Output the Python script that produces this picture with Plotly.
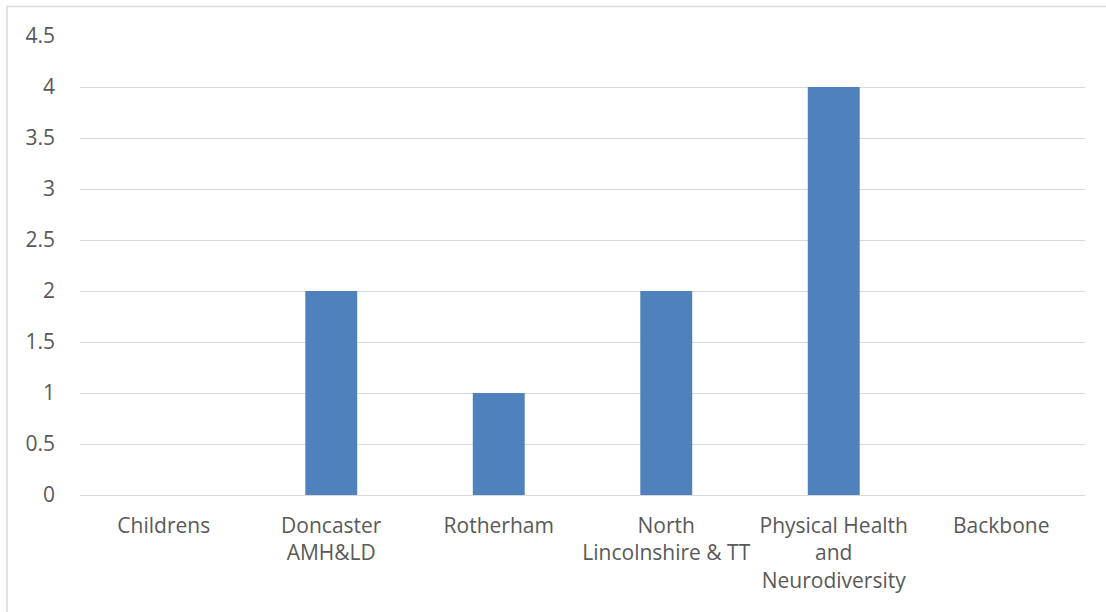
import plotly.graph_objects as go

categories = [
    "Childrens",
    "Doncaster<br>AMH&LD",
    "Rotherham",
    "North<br>Lincolnshire & TT",
    "Physical Health<br>and<br>Neurodiversity",
    "Backbone",
]
counts = [0, 2, 1, 2, 4, 0]
y_ticks = [0, 0.5, 1, 1.5, 2, 2.5, 3, 3.5, 4, 4.5]

W, H = 1106, 612
ML, MR, MT, MB = 80, 21, 36, 117
pw, ph = W - ML - MR, H - MT - MB

fig = go.Figure(
    go.Bar(
        x=categories,
        y=counts,
        marker=dict(color="#4f81bd", line=dict(width=0)),
        hoverinfo="x+y",
    )
)

font = dict(family="Open Sans, Noto Sans, sans-serif", size=21, color="#595959")

fig.update_layout(
    width=W,
    height=H,
    margin=dict(l=ML, r=MR, t=MT, b=MB, pad=0),
    paper_bgcolor="white",
    plot_bgcolor="white",
    bargap=0.69,
    showlegend=False,
    font=font,
    xaxis=dict(
        showgrid=False,
        showline=False,
        zeroline=False,
        ticks="",
        tickfont=font,
        ticklabelstandoff=16,
        fixedrange=True,
    ),
    yaxis=dict(
        range=[0, 4.5],
        tickvals=y_ticks,
        ticktext=[f"{v:g}" for v in y_ticks],
        showgrid=True,
        gridcolor="#d9d9d9",
        gridwidth=1.3,
        zeroline=True,
        zerolinecolor="#d9d9d9",
        zerolinewidth=1.3,
        showline=False,
        ticks="",
        tickfont=font,
        ticklabelstandoff=24,
        fixedrange=True,
    ),
    shapes=[
        # chart frame (left and top edges visible)
        dict(
            type="rect",
            xref="paper",
            yref="paper",
            x0=(7 - ML) / pw,
            x1=(W + 10 - ML) / pw,
            y0=-(H + 10 - MT - ph) / ph,
            y1=(H - 6.5 - MB) / ph,
            line=dict(color="#d9d9d9", width=1.5),
            fillcolor="rgba(0,0,0,0)",
            layer="below",
        )
    ],
)

fig.write_html("out.html")
